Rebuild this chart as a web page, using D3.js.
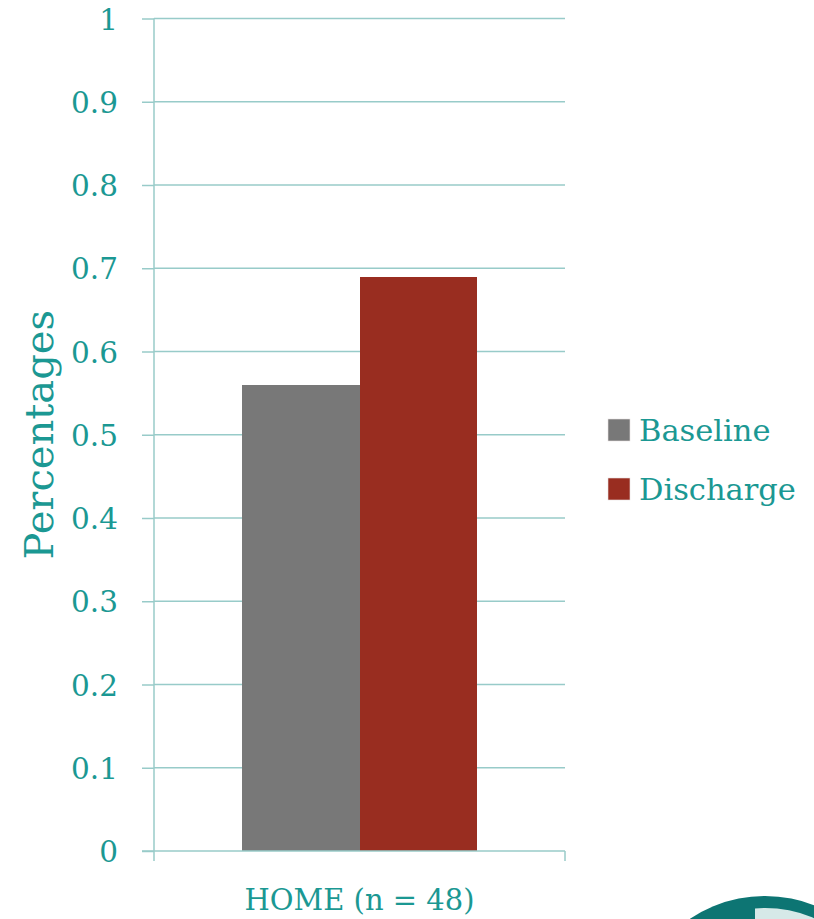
<!DOCTYPE html>
<html>
<head>
<meta charset="utf-8">
<script src="https://cdn.jsdelivr.net/npm/d3@7"></script>
<style>
  html, body { margin: 0; padding: 0; background: #ffffff; }
  svg { display: block; }
</style>
</head>
<body>
<svg id="chart" width="814" height="919"></svg>
<script>
// Share of patients at home, baseline vs. discharge
const categories = ["HOME (n = 48)"];
const seriesNames = ["Baseline", "Discharge"];
const baselineValues = [0.56];
const dischargeValues = [0.69];
const seriesColors = ["#787878", "#992d20"];
const yTicks = [0, 0.1, 0.2, 0.3, 0.4, 0.5, 0.6, 0.7, 0.8, 0.9, 1];
const yTickLabels = ["0", "0.1", "0.2", "0.3", "0.4", "0.5", "0.6", "0.7", "0.8", "0.9", "1"];
const yAxisTitle = "Percentages";

const seriesValues = [baselineValues, dischargeValues];

const teal = "#1b9893";
const gridColor = "#98cbc9";
const font = "'DejaVu Serif', serif";

const svg = d3.select("#chart");

const plot = { left: 154, right: 565, top: 18.5, bottom: 851 };

const y = d3.scaleLinear().domain([0, 1]).range([plot.bottom, plot.top]);
const x0 = d3.scaleBand().domain(categories).range([plot.left, plot.right]).padding(0);
const x1 = d3.scaleBand().domain(seriesNames).range([0, x0.bandwidth()])
  .paddingInner(0).paddingOuter(0.756);

// Horizontal gridlines
svg.append("g")
  .selectAll("line")
  .data(yTicks.slice(1))
  .join("line")
  .attr("x1", plot.left).attr("x2", plot.right)
  .attr("y1", d => y(d)).attr("y2", d => y(d))
  .attr("stroke", gridColor).attr("stroke-width", 1.5);

// Bars
const groups = svg.append("g")
  .selectAll("g")
  .data(categories)
  .join("g")
  .attr("transform", d => `translate(${x0(d)},0)`);

groups.selectAll("rect")
  .data((d, i) => seriesNames.map((s, k) => ({ s, k, v: seriesValues[k][i] })))
  .join("rect")
  .attr("x", d => x1(d.s))
  .attr("width", x1.bandwidth())
  .attr("y", d => y(d.v))
  .attr("height", d => y(0) - y(d.v))
  .attr("fill", d => seriesColors[d.k])
  .attr("shape-rendering", "crispEdges");

// Y axis: line, tick marks and labels
const yAxis = d3.axisLeft(y)
  .tickValues(yTicks)
  .tickFormat((d, i) => yTickLabels[i])
  .tickSize(12)
  .tickPadding(24);

const yG = svg.append("g")
  .attr("transform", `translate(${plot.left},0)`)
  .call(yAxis);
yG.select(".domain").remove();
yG.selectAll(".tick line").attr("stroke", gridColor).attr("stroke-width", 1.5);
yG.selectAll(".tick text")
  .attr("fill", teal)
  .style("font-family", font)
  .style("font-size", "29.5px")
  .attr("dy", "0.36em");

svg.append("line")
  .attr("x1", plot.left).attr("x2", plot.left)
  .attr("y1", plot.top).attr("y2", plot.bottom + 10)
  .attr("stroke", gridColor).attr("stroke-width", 1.5);

// X axis: baseline with category boundary ticks
const xAxis = d3.axisBottom(x0).tickSize(0).tickPadding(38);
const xG = svg.append("g")
  .attr("transform", `translate(0,${plot.bottom})`)
  .call(xAxis);
xG.select(".domain").remove();
xG.selectAll(".tick text")
  .attr("fill", teal)
  .style("font-family", font)
  .style("font-size", "29px");

svg.append("line")
  .attr("x1", plot.left - 12).attr("x2", plot.right)
  .attr("y1", plot.bottom).attr("y2", plot.bottom)
  .attr("stroke", gridColor).attr("stroke-width", 1.5);
svg.append("line")
  .attr("x1", plot.right).attr("x2", plot.right)
  .attr("y1", plot.bottom).attr("y2", plot.bottom + 10)
  .attr("stroke", gridColor).attr("stroke-width", 1.5);

// Y axis title
svg.append("text")
  .attr("transform", `translate(53,${(plot.top + plot.bottom) / 2}) rotate(-90)`)
  .attr("text-anchor", "middle")
  .attr("fill", teal)
  .style("font-family", font)
  .style("font-size", "40px")
  .text(yAxisTitle);

// Legend
const legend = svg.append("g").attr("transform", "translate(608,419)");
const items = legend.selectAll("g")
  .data(seriesNames)
  .join("g")
  .attr("transform", (d, i) => `translate(0,${i * 59})`);
items.append("rect")
  .attr("width", 22).attr("height", 22)
  .attr("fill", (d, i) => seriesColors[i])
  .attr("stroke", "#e8e0e0").attr("stroke-width", 0.6);
items.append("text")
  .attr("x", 31).attr("y", 22)
  .attr("fill", teal)
  .style("font-family", font)
  .style("font-size", "30.5px")
  .text(d => d);

// Round emblem peeking in at the lower right corner
const emblem = svg.append("g");
emblem.append("circle")
  .attr("cx", 765).attr("cy", 1031).attr("r", 135)
  .attr("fill", "#0d7573");
svg.append("defs").append("clipPath").attr("id", "emblemClip")
  .append("rect").attr("x", 755).attr("y", 880).attr("width", 80).attr("height", 60);
emblem.append("circle")
  .attr("cx", 765).attr("cy", 1031).attr("r", 123)
  .attr("fill", "#d6e9e8")
  .attr("clip-path", "url(#emblemClip)");
</script>
</body>
</html>
